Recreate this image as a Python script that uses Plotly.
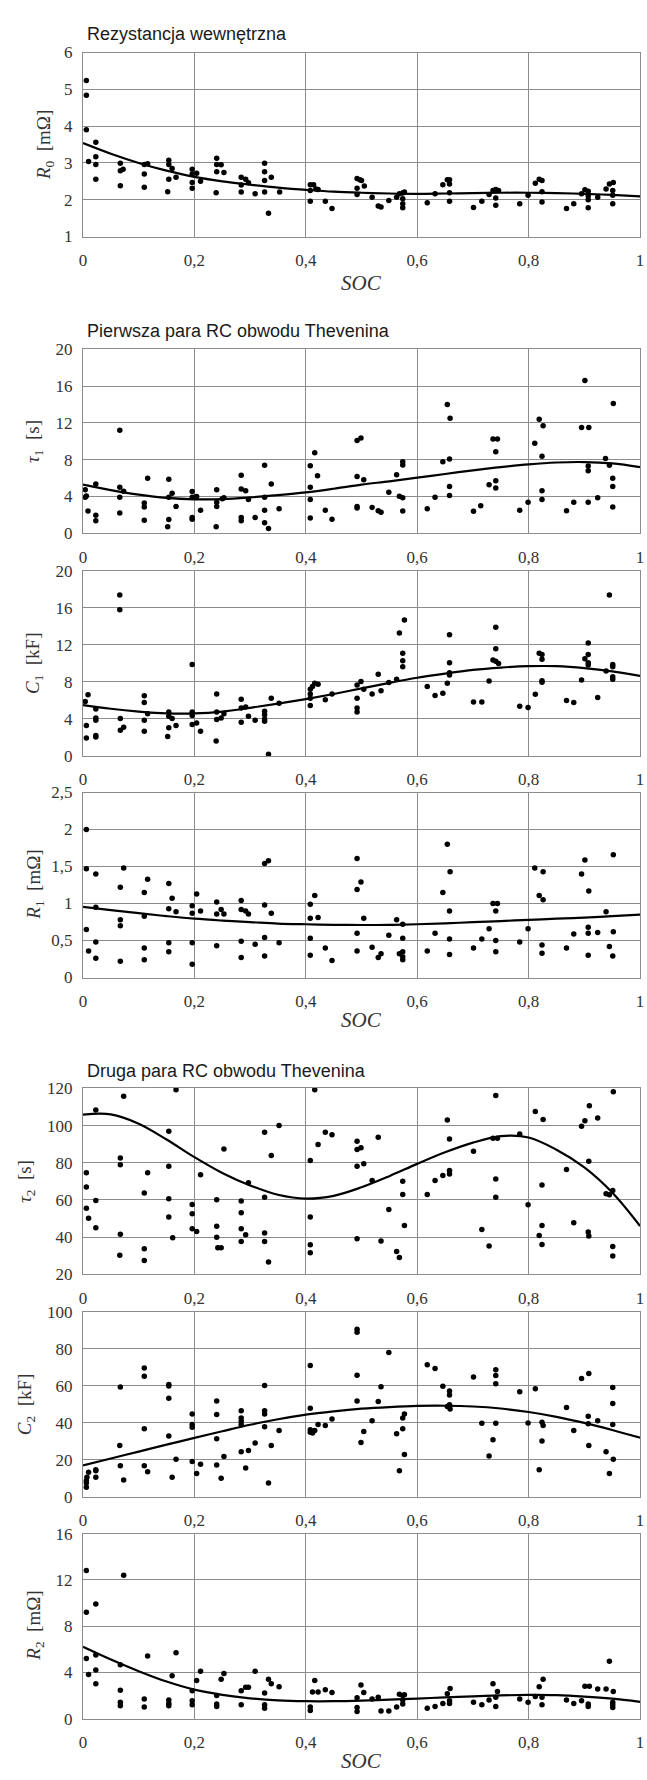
import plotly.graph_objects as go

# ---------------- data ----------------
fit_soc = [0, 0.05, 0.1, 0.15, 0.2, 0.25, 0.3, 0.35, 0.4, 0.45, 0.5,
           0.55, 0.6, 0.65, 0.7, 0.75, 0.8, 0.85, 0.9, 0.95, 1.0]

# R0 [mOhm]
soc_r0 = [0.006, 0.006, 0.006, 0.01, 0.023, 0.023, 0.023, 0.023, 0.067, 0.067,
          0.067, 0.072, 0.11, 0.11, 0.11, 0.116, 0.154, 0.154, 0.154, 0.152,
          0.16, 0.167, 0.196, 0.196, 0.196, 0.196, 0.204, 0.211, 0.24, 0.24,
          0.24, 0.239, 0.248, 0.253, 0.284, 0.284, 0.284, 0.292, 0.297, 0.309,
          0.326, 0.326, 0.326, 0.326, 0.333, 0.338, 0.353, 0.408, 0.408, 0.408,
          0.414, 0.418, 0.422, 0.435, 0.447, 0.492, 0.492, 0.492, 0.497, 0.5,
          0.505, 0.519, 0.53, 0.535, 0.549, 0.563, 0.568, 0.574, 0.574, 0.574,
          0.574, 0.577, 0.618, 0.632, 0.646, 0.654, 0.658, 0.658, 0.658, 0.658,
          0.701, 0.716, 0.729, 0.736, 0.741, 0.741, 0.741, 0.746, 0.784, 0.799,
          0.812, 0.819, 0.824, 0.824, 0.824, 0.868, 0.881, 0.895, 0.901, 0.907,
          0.907, 0.907, 0.907, 0.924, 0.939, 0.945, 0.952, 0.951, 0.951, 0.951]
r0 = [5.24, 4.84, 3.90, 3.04, 3.56, 3.17, 2.96, 2.56, 2.99, 2.79,
      2.38, 2.83, 2.96, 2.70, 2.34, 2.98, 3.07, 2.96, 2.56, 2.22,
      2.85, 2.61, 2.83, 2.70, 2.47, 2.31, 2.72, 2.50, 3.13, 2.96,
      2.76, 2.19, 2.95, 2.74, 2.61, 2.40, 2.21, 2.56, 2.46, 2.16,
      2.99, 2.76, 2.52, 2.21, 1.63, 2.61, 2.21, 2.41, 2.25, 1.96,
      2.41, 2.29, 2.28, 1.96, 1.76, 2.58, 2.31, 2.14, 2.54, 2.52,
      2.37, 2.07, 1.83, 1.80, 1.98, 2.07, 2.16, 2.18, 2.03, 1.89,
      1.78, 2.21, 1.92, 2.16, 2.41, 2.54, 2.54, 2.43, 2.19, 1.96,
      1.79, 1.96, 2.14, 2.25, 2.28, 2.05, 1.85, 2.25, 1.89, 2.12,
      2.45, 2.56, 2.52, 2.22, 1.94, 1.76, 1.89, 2.16, 2.27, 2.23,
      2.10, 2.00, 1.78, 2.07, 2.29, 2.43, 2.47, 2.25, 2.12, 1.89]
r0_fit = [3.54, 3.25, 3.0, 2.79, 2.62, 2.5, 2.41, 2.33, 2.27, 2.22, 2.19,
          2.17, 2.16, 2.17, 2.18, 2.19, 2.19, 2.18, 2.16, 2.13, 2.09]

# tau1 [s]
soc_tau1 = [0.004, 0.004, 0.006, 0.009, 0.023, 0.023, 0.023,
            0.066, 0.066, 0.066, 0.066, 0.073,
            0.11, 0.11, 0.11, 0.116,
            0.154, 0.154, 0.154, 0.152, 0.16, 0.167,
            0.196, 0.196, 0.196, 0.196, 0.2, 0.204, 0.211,
            0.24, 0.24, 0.24, 0.239, 0.25, 0.253,
            0.284, 0.284, 0.284, 0.284, 0.292, 0.297, 0.309,
            0.326, 0.326, 0.326, 0.326, 0.333, 0.338, 0.352,
            0.408, 0.408, 0.408, 0.408, 0.416, 0.421, 0.435, 0.447,
            0.492, 0.499, 0.492, 0.492, 0.492, 0.504, 0.519, 0.53, 0.535,
            0.549, 0.563, 0.568, 0.574, 0.574, 0.574, 0.574,
            0.618, 0.632, 0.646, 0.654, 0.659, 0.658, 0.658, 0.658,
            0.701, 0.714, 0.729, 0.736, 0.744, 0.741, 0.741, 0.741,
            0.784, 0.799, 0.811, 0.819, 0.826, 0.824, 0.824, 0.824,
            0.868, 0.881, 0.895, 0.901, 0.908, 0.907, 0.907, 0.907,
            0.924, 0.938, 0.945, 0.952, 0.951, 0.951, 0.951]
tau1 = [4.75, 3.93, 4.05, 2.43, 5.36, 1.96, 1.36,
        11.2, 5.0, 3.93, 2.2, 4.57,
        3.29, 2.86, 1.43, 6.0,
        5.89, 3.93, 1.5, 0.71, 4.36, 2.93,
        4.54, 3.93, 1.71, 1.54, 3.93, 4.0, 2.5,
        4.75, 3.39, 2.93, 0.71, 3.75, 3.86,
        6.32, 4.82, 1.71, 1.36, 4.64, 3.68, 1.71,
        7.39, 3.93, 2.5, 1.14, 0.54, 5.36, 2.68,
        7.36, 5.0, 3.68, 1.68, 8.75, 6.25, 2.5, 1.54,
        10.1, 10.36, 6.18, 2.93, 2.75, 5.82, 2.82, 2.45, 2.3,
        4.46, 6.36, 4.04, 7.79, 7.43, 3.86, 2.43,
        2.68, 3.93, 7.79, 14.0, 12.5, 8.07, 5.1, 4.1,
        2.4, 3.0, 5.29, 10.25, 10.25, 8.86, 5.71, 4.93,
        2.5, 3.39, 9.79, 12.4, 11.7, 8.39, 4.64, 3.68,
        2.45, 3.39, 11.5, 16.6, 11.5, 7.32, 6.79, 3.39,
        3.86, 8.14, 7.39, 14.1, 6.0, 5.1, 2.86]
tau1_fit = [5.3, 4.7, 4.2, 3.85, 3.7, 3.72, 3.9, 4.15, 4.45, 4.85, 5.3,
            5.65, 6.05, 6.45, 6.85, 7.2, 7.5, 7.7, 7.75, 7.6, 7.2]

# C1 [kF]
soc_c1 = [0.004, 0.009, 0.006, 0.006, 0.023, 0.023, 0.023, 0.023, 0.023,
          0.066, 0.066, 0.067, 0.067, 0.073,
          0.11, 0.11, 0.11, 0.11, 0.116,
          0.154, 0.154, 0.154, 0.152, 0.16, 0.167,
          0.196, 0.196, 0.196, 0.196, 0.204, 0.211,
          0.24, 0.24, 0.24, 0.239, 0.248, 0.253,
          0.284, 0.284, 0.284, 0.292, 0.297, 0.309,
          0.326, 0.326, 0.326, 0.326, 0.333, 0.338, 0.352,
          0.408, 0.408, 0.408, 0.408, 0.412, 0.416, 0.422, 0.435, 0.447,
          0.492, 0.492, 0.492, 0.492, 0.499, 0.504, 0.519, 0.53, 0.535,
          0.549, 0.563, 0.568, 0.577, 0.574, 0.574, 0.574,
          0.618, 0.632, 0.646, 0.654, 0.658, 0.658, 0.658, 0.658,
          0.701, 0.716, 0.729, 0.741, 0.741, 0.736, 0.741, 0.746,
          0.784, 0.799, 0.812, 0.819, 0.824, 0.824, 0.824, 0.824,
          0.868, 0.881, 0.895, 0.901, 0.907, 0.907, 0.907, 0.907,
          0.924, 0.939, 0.945, 0.951, 0.951, 0.951, 0.951]
c1 = [5.89, 6.61, 3.29, 1.93, 5.07, 4.11, 3.86, 2.21, 2.04,
      17.4, 15.8, 4.04, 2.79, 3.11,
      6.5, 5.79, 3.86, 2.68, 4.57,
      4.75, 4.29, 3.04, 2.1, 4.04, 3.29,
      9.89, 4.75, 4.36, 3.39, 3.57, 2.68,
      6.71, 4.75, 3.93, 1.61, 4.11, 4.57,
      6.14, 5.18, 3.64, 5.29, 4.29, 3.86,
      4.82, 4.46, 4.0, 3.75, 0.18, 6.25, 5.71,
      7.21, 6.71, 6.25, 5.46, 7.5, 7.86, 7.75, 6.07, 6.71,
      7.68, 6.25, 5.18, 4.75, 8.04, 7.21, 6.71, 8.82, 7.04,
      7.93, 8.29, 13.3, 14.7, 11.1, 10.3, 9.64,
      7.5, 6.54, 6.79, 7.86, 13.1, 10.07, 9.0, 8.75,
      5.82, 5.82, 8.11, 13.9, 11.6, 10.36, 10.25, 10.0,
      5.36, 5.25, 6.68, 11.1, 10.96, 10.46, 8.14, 7.96,
      6.0, 5.79, 8.21, 10.5, 12.2, 10.96, 10.07, 9.82,
      6.32, 9.18, 17.4, 9.89, 9.64, 8.57, 8.29]
c1_fit = [5.5, 5.1, 4.8, 4.6, 4.6, 4.8, 5.2, 5.65, 6.15, 6.7, 7.3,
          7.9, 8.45, 8.9, 9.3, 9.55, 9.7, 9.7, 9.5, 9.15, 8.65]

# R1 [mOhm]
soc_r1 = [0.006, 0.006, 0.006, 0.01, 0.023, 0.023, 0.023, 0.023,
          0.067, 0.067, 0.067, 0.067, 0.073,
          0.11, 0.11, 0.11, 0.11, 0.116,
          0.154, 0.154, 0.154, 0.154, 0.16, 0.167,
          0.196, 0.196, 0.196, 0.196, 0.204, 0.211,
          0.24, 0.24, 0.24, 0.248, 0.253,
          0.284, 0.284, 0.284, 0.284, 0.292, 0.297, 0.309,
          0.326, 0.333, 0.326, 0.326, 0.326, 0.338, 0.352,
          0.408, 0.408, 0.408, 0.408, 0.416, 0.422, 0.435, 0.447,
          0.492, 0.492, 0.492, 0.492, 0.499, 0.504, 0.519, 0.53, 0.535,
          0.549, 0.563, 0.568, 0.574, 0.574, 0.574, 0.574, 0.574,
          0.618, 0.632, 0.646, 0.654, 0.659, 0.658, 0.658, 0.658,
          0.701, 0.716, 0.729, 0.736, 0.744, 0.741, 0.741, 0.741,
          0.784, 0.799, 0.811, 0.819, 0.826, 0.826, 0.824, 0.824,
          0.868, 0.881, 0.895, 0.901, 0.908, 0.907, 0.907, 0.907,
          0.924, 0.939, 0.945, 0.952, 0.952, 0.951]
r1 = [2.0, 1.47, 0.65, 0.36, 1.40, 0.95, 0.48, 0.26,
      1.22, 0.78, 0.70, 0.22, 1.48,
      1.15, 0.83, 0.40, 0.24, 1.33,
      1.27, 0.93, 0.47, 0.35, 1.07, 0.89,
      0.97, 0.87, 0.47, 0.18, 1.13, 0.90,
      1.02, 0.86, 0.43, 0.92, 0.86,
      1.04, 0.92, 0.49, 0.27, 0.90, 0.86, 0.45,
      1.54, 1.58, 0.98, 0.54, 0.29, 0.87, 0.47,
      0.99, 0.80, 0.53, 0.30, 1.11, 0.81, 0.40, 0.23,
      1.61, 1.19, 0.60, 0.36, 1.29, 0.80, 0.41, 0.27, 0.32,
      0.57, 0.78, 0.32, 0.72, 0.53, 0.35, 0.28, 0.24,
      0.36, 0.60, 1.15, 1.80, 1.43, 0.90, 0.52, 0.31,
      0.40, 0.52, 0.66, 1.00, 1.00, 0.90, 0.50, 0.35,
      0.48, 0.66, 1.48, 1.11, 1.43, 1.05, 0.44, 0.33,
      0.40, 0.59, 1.40, 1.59, 1.17, 0.68, 0.60, 0.30,
      0.61, 0.89, 0.42, 1.66, 0.62, 0.29]
r1_fit = [0.955, 0.91, 0.87, 0.83, 0.795, 0.77, 0.75, 0.73, 0.72, 0.713, 0.71,
          0.712, 0.72, 0.733, 0.748, 0.763, 0.78, 0.795, 0.81, 0.83, 0.85]

# tau2 [s]
soc_tau2 = [0.006, 0.006, 0.006, 0.01, 0.023, 0.023, 0.023,
            0.066, 0.067, 0.067, 0.067, 0.073,
            0.11, 0.11, 0.11, 0.116,
            0.167, 0.154, 0.154, 0.154, 0.154, 0.161,
            0.196, 0.196, 0.196, 0.204, 0.211,
            0.24, 0.24, 0.24, 0.242, 0.248, 0.253,
            0.284, 0.284, 0.284, 0.284, 0.292, 0.297, 0.309,
            0.326, 0.326, 0.326, 0.326, 0.333, 0.338, 0.352,
            0.408, 0.408, 0.408, 0.408, 0.416, 0.422, 0.435, 0.447,
            0.492, 0.492, 0.499, 0.492, 0.492, 0.504, 0.519, 0.53, 0.535,
            0.549, 0.563, 0.568, 0.574, 0.574, 0.577,
            0.618, 0.632, 0.646, 0.654, 0.658, 0.659, 0.658, 0.658,
            0.701, 0.716, 0.729, 0.736, 0.744, 0.741, 0.741, 0.741,
            0.784, 0.799, 0.812, 0.819, 0.826, 0.824, 0.824, 0.824,
            0.868, 0.881, 0.895, 0.901, 0.909, 0.908, 0.907, 0.908,
            0.924, 0.939, 0.945, 0.952, 0.951, 0.951, 0.951]
tau2 = [74.6, 66.9, 55.6, 50.2, 108.4, 59.7, 45.0,
        30.2, 82.6, 78.9, 41.5, 115.7,
        63.8, 33.8, 27.5, 74.6,
        119.3, 96.9, 78.1, 60.6, 50.8, 39.7,
        57.6, 52.6, 44.5, 43.1, 73.5,
        60.1, 45.8, 40.0, 34.3, 34.3, 87.4,
        59.4, 53.1, 44.5, 37.7, 41.3, 69.2, 120.5,
        96.4, 61.5, 42.2, 37.7, 26.6, 83.9, 100.0,
        81.2, 50.8, 35.9, 31.6, 119.3, 89.8, 96.4, 95.0,
        91.6, 87.1, 88.0, 78.1, 39.1, 79.4, 70.4, 93.7, 37.9,
        54.9, 32.3, 29.0, 70.1, 62.9, 46.3,
        62.9, 70.4, 73.1, 103.0, 92.8, 120.5, 75.8, 74.0,
        86.2, 44.1, 35.2, 93.2, 93.2, 116.1, 71.3, 61.5,
        95.5, 57.4, 107.5, 40.9, 103.2, 68.1, 46.3, 36.1,
        76.4, 47.7, 99.6, 102.6, 110.7, 80.8, 42.7, 40.6,
        104.1, 63.3, 62.8, 118.2, 65.1, 35.0, 29.8]
tau2_fit = [105.9, 106.0, 101.0, 92.5, 83.0, 74.5, 67.8, 62.8, 60.7, 62.2, 66.8,
            72.8, 79.4, 85.6, 90.8, 94.3, 93.6, 87.0, 77.5, 64.0, 46.0]

# C2 [kF]
soc_c2 = [0.006, 0.006, 0.006, 0.007, 0.01, 0.023, 0.023, 0.023,
          0.066, 0.067, 0.067, 0.073,
          0.11, 0.11, 0.11, 0.11, 0.116,
          0.154, 0.154, 0.154, 0.154, 0.16, 0.167,
          0.196, 0.196, 0.196, 0.196, 0.204, 0.211,
          0.24, 0.24, 0.24, 0.24, 0.248, 0.253,
          0.284, 0.284, 0.284, 0.284, 0.284, 0.292, 0.297, 0.309,
          0.326, 0.326, 0.326, 0.326, 0.333, 0.338, 0.352,
          0.408, 0.408, 0.408, 0.408, 0.412, 0.416, 0.422, 0.435, 0.447,
          0.492, 0.492, 0.492, 0.492, 0.499, 0.504, 0.519, 0.53, 0.535,
          0.549, 0.563, 0.568, 0.574, 0.574, 0.577, 0.577,
          0.618, 0.632, 0.646, 0.654, 0.658, 0.658, 0.658, 0.659,
          0.701, 0.716, 0.729, 0.736, 0.741, 0.741, 0.741, 0.741,
          0.784, 0.799, 0.812, 0.819, 0.824, 0.826, 0.824,
          0.868, 0.881, 0.895, 0.908, 0.907, 0.907, 0.908,
          0.924, 0.939, 0.945, 0.951, 0.951, 0.951, 0.952]
c2 = [5.3, 7.6, 8.8, 10.6, 13.3, 14.7, 14.2, 10.6,
      27.8, 59.4, 16.8, 9.2,
      69.7, 65.3, 36.8, 16.8, 13.6,
      60.8, 60.0, 53.4, 32.9, 10.6, 20.4,
      44.8, 39.1, 37.7, 19.1, 12.7, 17.7,
      51.9, 44.5, 31.5, 17.3, 10.1, 21.8,
      46.6, 42.7, 40.9, 39.1, 24.4, 15.6, 25.1, 29.2,
      60.3, 46.6, 44.8, 38.0, 7.6, 27.8, 35.9,
      71.0, 48.0, 36.3, 35.0, 34.5, 35.9, 39.1, 38.6, 42.1,
      90.6, 89.0, 65.8, 51.9, 29.4, 35.4, 41.2, 51.6, 59.6,
      78.1, 34.1, 14.2, 36.8, 42.7, 44.8, 23.0,
      71.5, 69.4, 59.9, 48.9, 57.3, 55.1, 49.8, 47.5,
      64.9, 39.8, 22.1, 30.9, 68.8, 65.6, 61.2, 39.8,
      56.9, 40.0, 58.5, 14.7, 40.4, 38.6, 30.2,
      48.4, 35.9, 64.0, 66.7, 43.6, 39.5, 27.8,
      41.2, 24.4, 12.7, 59.1, 50.5, 39.1, 20.4]
c2_fit = [17.0, 20.8, 24.5, 28.3, 31.9, 35.5, 39.0, 42.0, 44.5, 46.3, 47.7,
          48.6, 49.2, 49.3, 48.9, 47.8, 45.9, 43.3, 40.0, 36.2, 32.0]

# R2 [mOhm]
soc_r2 = [0.006, 0.006, 0.006, 0.01, 0.023, 0.023, 0.023, 0.023,
          0.067, 0.067, 0.067, 0.067, 0.073,
          0.11, 0.11, 0.116,
          0.154, 0.154, 0.154, 0.16, 0.167,
          0.196, 0.196, 0.196, 0.204, 0.211,
          0.24, 0.24, 0.24, 0.248, 0.253,
          0.284, 0.284, 0.292, 0.297, 0.309,
          0.326, 0.326, 0.326, 0.333, 0.338, 0.352,
          0.408, 0.408, 0.412, 0.416, 0.422, 0.435, 0.447,
          0.492, 0.492, 0.492, 0.499, 0.504, 0.519, 0.53, 0.535,
          0.549, 0.563, 0.568, 0.574, 0.574, 0.574, 0.577,
          0.618, 0.632, 0.646, 0.654, 0.659, 0.658, 0.658,
          0.701, 0.716, 0.729, 0.736, 0.744, 0.741, 0.741,
          0.784, 0.799, 0.812, 0.819, 0.826, 0.824, 0.824,
          0.868, 0.881, 0.895, 0.901, 0.909, 0.907, 0.907,
          0.924, 0.939, 0.945, 0.952, 0.951, 0.951, 0.951]
r2 = [12.8, 9.19, 5.2, 3.8, 9.9, 5.5, 4.2, 3.0,
      4.65, 2.45, 1.4, 1.1, 12.4,
      1.7, 1.0, 5.4,
      1.6, 1.3, 1.1, 3.7, 5.7,
      2.4, 1.55, 1.2, 3.3, 4.1,
      2.0, 1.25, 1.05, 3.4, 3.9,
      2.4, 1.2, 2.7, 2.7, 4.1,
      2.2, 1.2, 0.9, 3.4, 3.0, 2.75,
      1.0, 0.7, 2.3, 3.3, 2.3, 2.5, 2.25,
      1.8, 0.95, 0.6, 2.9, 2.25, 1.7, 1.85, 0.65,
      0.65, 1.0, 2.1, 2.0, 1.6, 1.25, 2.05,
      0.9, 1.05, 1.3, 2.15, 2.6, 1.55, 1.3,
      1.4, 1.2, 1.6, 3.0, 2.35, 1.85, 1.05,
      1.7, 1.4, 1.9, 2.75, 3.4, 1.85, 1.2,
      1.6, 1.3, 1.55, 2.8, 2.8, 1.25, 1.05,
      2.55, 2.55, 4.95, 2.35, 1.4, 1.2, 0.95]
r2_fit = [6.2, 5.1, 4.1, 3.2, 2.5, 2.05, 1.75, 1.57, 1.5, 1.5, 1.55,
          1.63, 1.73, 1.83, 1.92, 2.0, 2.04, 2.02, 1.9, 1.72, 1.45]

x_ticks = [0, 0.2, 0.4, 0.6, 0.8, 1]

# ---------------- figure ----------------
W, H = 647, 1780
PLOT_L, PLOT_R = 80, 644
GRID = "#8c8c8c"
TXT = "#333333"
SERIF = "Liberation Serif"
SANS = "Liberation Sans"

panels = [
    # (soc, values, fit, y-range, dtick, top px, bottom px, y-title, title x px)
    (soc_r0, r0, r0_fit, [1, 6], 1, 44, 230, "<i>R</i><sub>0</sub>  [mΩ]", 41),
    (soc_tau1, tau1, tau1_fit, [0, 20], 4, 344, 530, "<i>τ</i><sub>1</sub>  [s]", 31),
    (soc_c1, c1, c1_fit, [0, 20], 4, 568, 755, "<i>C</i><sub>1</sub>  [kF]", 31),
    (soc_r1, r1, r1_fit, [0, 2.5], 0.5, 792, 979, "<i>R</i><sub>1</sub>  [mΩ]", 31),
    (soc_tau2, tau2, tau2_fit, [20, 120], 20, 1091, 1279, "<i>τ</i><sub>2</sub>  [s]", 23),
    (soc_c2, c2, c2_fit, [0, 100], 20, 1317, 1504, "<i>C</i><sub>2</sub>  [kF]", 23),
    (soc_r2, r2, r2_fit, [0, 16], 4, 1541, 1728, "<i>R</i><sub>2</sub>  [mΩ]", 31),
]

fig = go.Figure()
layout = dict(
    width=W, height=H, margin=dict(l=0, r=0, t=0, b=0),
    paper_bgcolor="white", plot_bgcolor="white", showlegend=False,
    separators=", ",
)
annotations = []

for i, (sx, sy, fit, yr, dt, top, bot, ytitle, tx) in enumerate(panels):
    assert len(sx) == len(sy), (i, len(sx), len(sy))
    n = i + 1
    xa = "x" if n == 1 else f"x{n}"
    ya = "y" if n == 1 else f"y{n}"
    fig.add_trace(go.Scatter(
        x=sx, y=sy, mode="markers", xaxis=xa, yaxis=ya,
        marker=dict(color="black", size=5.5), cliponaxis=False, hoverinfo="skip"))
    fig.add_trace(go.Scatter(
        x=fit_soc, y=fit, mode="lines", xaxis=xa, yaxis=ya,
        line=dict(color="black", width=2.2, shape="spline", smoothing=1.0),
        hoverinfo="skip"))
    common = dict(showgrid=True, gridcolor=GRID, gridwidth=1, zeroline=False,
                  showline=True, linecolor=GRID, linewidth=1, mirror=True,
                  ticks="", ticklabeloverflow="allow",
                  tickfont=dict(family=SERIF, size=17, color=TXT))
    layout["xaxis" if n == 1 else f"xaxis{n}"] = dict(
        domain=[PLOT_L / W, PLOT_R / W], range=[0, 1], tickvals=x_ticks,
        anchor=ya, ticklabelstandoff=8, **common)
    layout["yaxis" if n == 1 else f"yaxis{n}"] = dict(
        domain=[1 - bot / H, 1 - top / H], range=yr, dtick=dt, tick0=0,
        anchor=xa, ticklabelstandoff=6, **common)
    annotations.append(dict(
        text=ytitle, x=tx / W, y=1 - (top + bot) / 2 / H, xref="paper", yref="paper",
        xanchor="center", yanchor="middle", textangle=-90, showarrow=False,
        font=dict(family=SERIF, size=19, color=TXT)))

# SOC axis titles
for ypx in (277, 1022, 1771):
    annotations.append(dict(
        text="<i>SOC</i>", x=(PLOT_L + PLOT_R) / 2 / W, y=1 - ypx / H,
        xref="paper", yref="paper", xanchor="center", yanchor="middle",
        showarrow=False, font=dict(family=SERIF, size=21, color=TXT)))

# Section titles
for txt, ypx in (("Rezystancja wewnętrzna", 25),
                 ("Pierwsza para RC obwodu Thevenina", 325),
                 ("Druga para RC obwodu Thevenina", 1073)):
    annotations.append(dict(
        text=txt, x=82 / W, y=1 - ypx / H, xref="paper", yref="paper",
        xanchor="left", yanchor="middle", showarrow=False,
        font=dict(family=SANS, size=18, color="#1a1a1a")))

layout["annotations"] = annotations
fig.update_layout(**layout)
fig.write_html(
    "out.html",
    config={"displayModeBar": False},
    post_script="document.body.style.margin='0';document.body.style.padding='0';"
                "document.body.style.overflow='hidden';"
                "document.documentElement.style.overflow='hidden';",
)
